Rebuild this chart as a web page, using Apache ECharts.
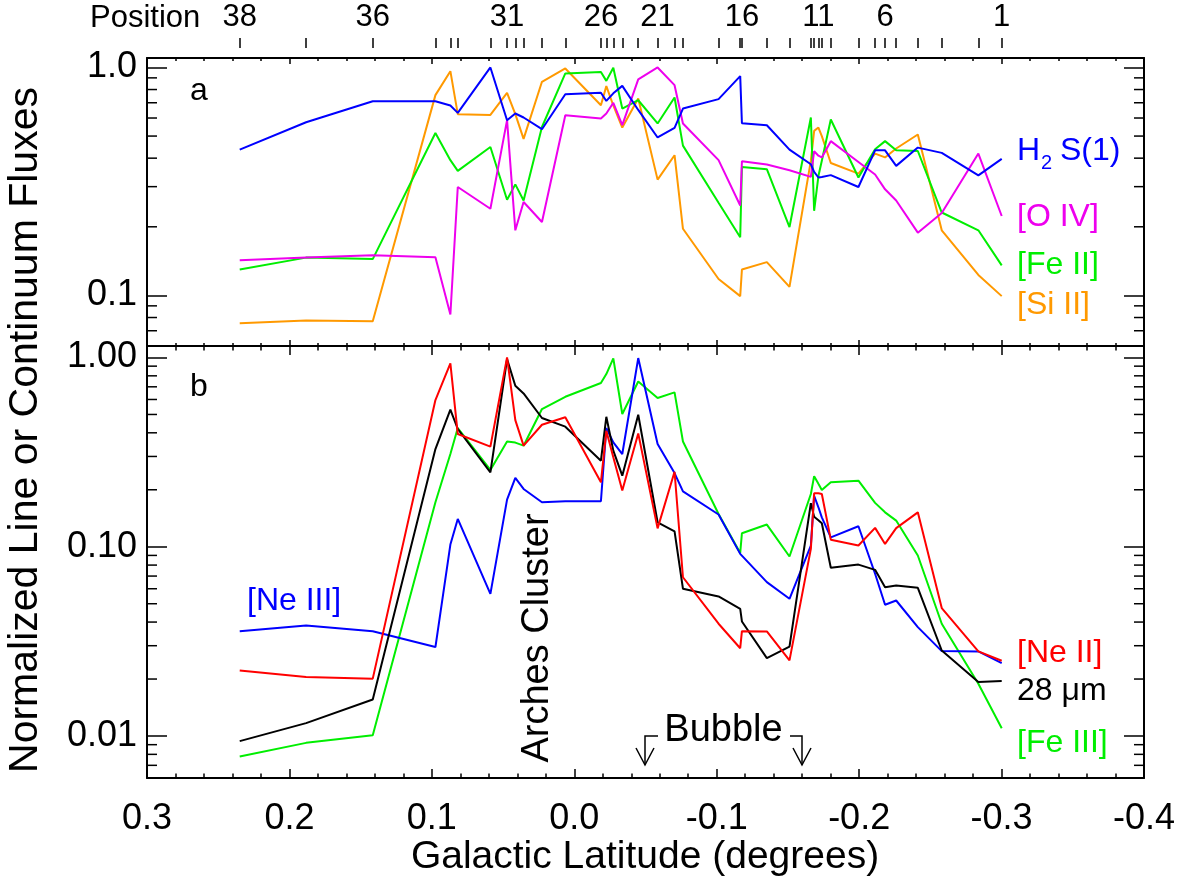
<!DOCTYPE html>
<html>
<head>
<meta charset="utf-8">
<script src="https://cdn.jsdelivr.net/npm/echarts@6/dist/echarts.min.js"></script>
<style>
html,body{margin:0;padding:0;background:#fff;}
#chart{width:1190px;height:881px;}
</style>
</head>
<body>
<div id="chart"></div>
<script>
// Galactic latitude of observed positions 38 ... 1
const lat = [0.2349, 0.1883, 0.1415, 0.0975, 0.0870, 0.0818, 0.0589, 0.0472, 0.0414, 0.0356,
  0.0227, 0.0063, -0.0187, -0.0225, -0.0274, -0.0337, -0.0449, -0.0585, -0.0704, -0.0763,
  -0.1013, -0.1165, -0.1177, -0.1352, -0.1511, -0.1661, -0.1684, -0.1714, -0.1738, -0.1801,
  -0.1995, -0.2112, -0.2182, -0.2260, -0.2412, -0.2580, -0.2837, -0.3001];
const positionNumbers = [38,37,36,35,34,33,32,31,30,29,28,27,26,25,24,23,22,21,20,19,18,17,16,15,14,13,12,11,10,9,8,7,6,5,4,3,2,1];
const positionLabels = [38, 36, 31, 26, 21, 16, 11, 6, 1];

// Panel a
const h2s1 = [0.436, 0.575, 0.711, 0.711, 0.681, 0.632, 1.0, 0.587, 0.628, 0.603, 0.536, 0.763, 0.774, 0.713, 0.77, 0.830, 0.651, 0.493, 0.543, 0.660, 0.726, 0.916, 0.569, 0.558, 0.436, 0.376, 0.348, 0.329, 0.331, 0.337, 0.299, 0.433, 0.433, 0.370, 0.445, 0.422, 0.336, 0.397];
const oIV = [0.1425, 0.1465, 0.150, 0.147, 0.0825, 0.299, 0.240, 0.587, 0.193, 0.257, 0.210, 0.617, 0.597, 0.628, 0.70, 0.558, 0.886, 1.0, 0.836, 0.568, 0.392, 0.248, 0.388, 0.375, 0.354, 0.331, 0.429, 0.41, 0.403, 0.475, 0.385, 0.339, 0.292, 0.261, 0.1885, 0.230, 0.419, 0.223];
const feII = [0.130, 0.1465, 0.1443, 0.516, 0.392, 0.352, 0.448, 0.263, 0.307, 0.261, 0.548, 0.941, 0.954, 0.873, 0.996, 0.660, 0.718, 0.568, 0.738, 0.454, 0.255, 0.180, 0.366, 0.358, 0.1995, 0.603, 0.235, 0.334, 0.390, 0.591, 0.329, 0.438, 0.475, 0.433, 0.43, 0.231, 0.193, 0.1355];
const siII = [0.0755, 0.0777, 0.0771, 0.756, 0.963, 0.624, 0.619, 0.774, 0.624, 0.486, 0.865, 0.99, 0.683, 0.828, 0.681, 0.545, 0.731, 0.322, 0.412, 0.196, 0.118, 0.0993, 0.130, 0.140, 0.109, 0.39, 0.527, 0.545, 0.50, 0.381, 0.342, 0.419, 0.403, 0.441, 0.508, 0.193, 0.123, 0.0993];

// Panel b
const neII = [0.0222, 0.0205, 0.0201, 0.596, 0.930, 0.394, 0.338, 1.0, 0.467, 0.342, 0.441, 0.483, 0.219, 0.410, 0.297, 0.198, 0.397, 0.125, 0.249, 0.069, 0.0392, 0.0291, 0.0358, 0.0357, 0.0251, 0.0975, 0.1915, 0.1915, 0.19, 0.109, 0.1015, 0.1258, 0.1035, 0.1254, 0.152, 0.0474, 0.028, 0.025];
const cont28 = [0.0094, 0.0117, 0.0156, 0.328, 0.530, 0.419, 0.247, 0.98, 0.709, 0.646, 0.479, 0.431, 0.285, 0.486, 0.322, 0.2375, 0.498, 0.1347, 0.1207, 0.060, 0.0546, 0.047, 0.0403, 0.0258, 0.0297, 0.17, 0.144, 0.138, 0.133, 0.0774, 0.0805, 0.0755, 0.0611, 0.0624, 0.0607, 0.0283, 0.0193, 0.0195];
const feIII = [0.0078, 0.0092, 0.0101, 0.172, 0.309, 0.424, 0.2545, 0.360, 0.355, 0.342, 0.534, 0.620, 0.733, 0.817, 0.99, 0.503, 0.747, 0.611, 0.654, 0.360, 0.149, 0.0928, 0.1178, 0.131, 0.0888, 0.190, 0.236, 0.215, 0.1996, 0.219, 0.2235, 0.1705, 0.152, 0.1375, 0.0899, 0.0392, 0.0189, 0.0110];
const neIII = [0.0358, 0.0384, 0.0358, 0.0295, 0.1027, 0.1403, 0.0564, 0.1775, 0.231, 0.202, 0.1718, 0.174, 0.174, 0.424, 0.356, 0.309, 0.993, 0.349, 0.245, 0.196, 0.148, 0.0917, 0.090, 0.065, 0.0531, 0.1015, 0.186, 0.1616, 0.143, 0.112, 0.1283, 0.072, 0.0494, 0.052, 0.0376, 0.0281, 0.028, 0.0243];

// minor log tick values
const minorA = [0.07, 0.08, 0.09, 0.2, 0.3, 0.4, 0.5, 0.6, 0.7, 0.8, 0.9];
const minorB = [0.007, 0.008, 0.009, 0.02, 0.03, 0.04, 0.05, 0.06, 0.07, 0.08, 0.09, 0.2, 0.3, 0.4, 0.5, 0.6, 0.7, 0.8, 0.9];

const FONT = '"Liberation Sans", Arial, Helvetica, sans-serif';
const C = {blue:'#0000ff', mag:'#ee00ee', green:'#00ee00', orange:'#ff9900', red:'#ff0000', black:'#000000'};

const pairs = ys => lat.map((x, i) => [x, ys[i]]);
const labelLats = positionLabels.map(p => lat[positionNumbers.indexOf(p)]);

function xAx(grid, pos, opts) {
  return Object.assign({
    type: 'value', gridIndex: grid, position: pos, min: -0.4, max: 0.3, interval: 0.1, inverse: true,
    axisLine: {show: true, onZero: false, lineStyle: {color: '#000', width: 2}},
    axisTick: {show: true, inside: true, length: 6, lineStyle: {color: '#000', width: 1.5}},
    minorTick: {show: true, splitNumber: 5, length: 3, lineStyle: {color: '#000', width: 1.5}},
    axisLabel: {show: false},
    splitLine: {show: false}, minorSplitLine: {show: false}
  }, opts || {});
}
function isPow10(v) { const l = Math.log10(v); return Math.abs(l - Math.round(l)) < 1e-6; }
function yAx(grid, pos, min, max, dec, showLabel) {
  return {
    type: 'log', logBase: 10, gridIndex: grid, position: pos, min: min, max: max,
    axisLine: {show: true, onZero: false, lineStyle: {color: '#000', width: 2}},
    axisTick: {show: true, inside: true, length: 20, lineStyle: {color: '#000', width: 1.5}},
    axisLabel: {show: showLabel, margin: 10, color: '#000', fontSize: 36, fontFamily: FONT,
      showMinLabel: false, showMaxLabel: false,
      formatter: v => isPow10(v) ? Number(v).toFixed(dec) : ''},
    splitLine: {show: false}
  };
}
function minorTicks(xi, yi, vals) {
  return {
    type: 'custom', xAxisIndex: xi, yAxisIndex: yi, silent: true, clip: false, z: 5,
    data: vals.map(v => [0, v]),
    renderItem: function (params, api) {
      const v = api.value(1);
      const pl = api.coord([0.3, v]);
      const pr = api.coord([-0.4, v]);
      const st = {stroke: '#000', lineWidth: 1.5};
      return {type: 'group', children: [
        {type: 'line', shape: {x1: pl[0], y1: pl[1], x2: pl[0] + 10, y2: pl[1]}, style: st},
        {type: 'line', shape: {x1: pr[0] - 10, y1: pr[1], x2: pr[0], y2: pr[1]}, style: st}
      ]};
    }
  };
}
function line(name, xi, yi, ys, color) {
  return {name: name, type: 'line', xAxisIndex: xi, yAxisIndex: yi, data: pairs(ys),
    showSymbol: false, symbol: 'none', lineStyle: {color: color, width: 2}, itemStyle: {color: color},
    z: 3, silent: true};
}
function txt(text, x, y, size, color, align, rot) {
  return {type: 'text', x: x, y: y, rotation: rot || 0, z: 50, silent: true,
    style: {text: text, fill: color || '#000', font: size + 'px ' + FONT, fontSize: size, fontFamily: FONT,
      align: align || 'left', textAlign: align || 'left', verticalAlign: 'middle', textVerticalAlign: 'middle'}};
}
function pl(points) {
  return {type: 'polyline', z: 50, silent: true, shape: {points: points}, style: {stroke: '#000', lineWidth: 1.5, fill: 'none'}};
}

const chart = echarts.init(document.getElementById('chart'), null, {renderer: 'canvas'});
chart.setOption({
  animation: false,
  backgroundColor: '#fff',
  grid: [
    {left: 147, top: 58, width: 997, height: 288, outerBoundsMode: 'none', containLabel: false},
    {left: 147, top: 346, width: 997, height: 432, outerBoundsMode: 'none', containLabel: false}
  ],
  xAxis: [
    xAx(0, 'bottom'),
    xAx(0, 'top'),
    xAx(0, 'top', {offset: 10, axisLine: {show: false},
      axisTick: {show: true, inside: false, length: 10, customValues: lat, lineStyle: {color: '#000', width: 1.5}},
      minorTick: {show: false},
      axisLabel: {show: true, customValues: labelLats, margin: 15, color: '#000', fontSize: 31, fontFamily: FONT,
        formatter: v => { let best = 0; lat.forEach((l, i) => { if (Math.abs(l - v) < Math.abs(lat[best] - v)) best = i; }); return String(positionNumbers[best]); }}}),
    xAx(1, 'bottom', {axisTick: {show: true, inside: true, length: 9, lineStyle: {color: '#000', width: 1.5}},
      minorTick: {show: true, splitNumber: 5, length: 4.5, lineStyle: {color: '#000', width: 1.5}},
      axisLabel: {show: true, margin: 23, color: '#000', fontSize: 36, fontFamily: FONT,
        formatter: v => (Math.abs(v) < 1e-9 ? '0.0' : Number(v).toFixed(1))}}),
    xAx(1, 'top', {axisTick: {show: true, inside: true, length: 9, lineStyle: {color: '#000', width: 1.5}},
      minorTick: {show: true, splitNumber: 5, length: 4.5, lineStyle: {color: '#000', width: 1.5}}})
  ],
  yAxis: [
    yAx(0, 'left', 0.06, 1.1, 1, true),
    yAx(0, 'right', 0.06, 1.1, 1, false),
    yAx(1, 'left', 0.006, 1.15, 2, true),
    yAx(1, 'right', 0.006, 1.15, 2, false)
  ],
  series: [
    minorTicks(0, 0, minorA),
    minorTicks(3, 2, minorB),
    line('[Si II]', 0, 0, siII, C.orange),
    line('[Fe II]', 0, 0, feII, C.green),
    line('[O IV]', 0, 0, oIV, C.mag),
    line('H2 S(1)', 0, 0, h2s1, C.blue),
    line('[Fe III]', 3, 2, feIII, C.green),
    line('[Ne III]', 3, 2, neIII, C.blue),
    line('28 um', 3, 2, cont28, C.black),
    line('[Ne II]', 3, 2, neII, C.red)
  ],
  graphic: [
    txt('Position', 90, 18, 31),
    txt('a', 190, 91, 32),
    txt('b', 190, 387, 32),
    txt('H', 1017, 151.5, 32, C.blue),
    txt('2', 1041, 163, 20, C.blue),
    txt('S(1)', 1060, 151.5, 32, C.blue),
    txt('[O IV]', 1017, 217.5, 32, C.mag),
    txt('[Fe II]', 1017, 265.5, 32, C.green),
    txt('[Si II]', 1017, 305.5, 32, C.orange),
    txt('[Ne III]', 247, 601.5, 32, C.blue),
    txt('[Ne II]', 1017, 653.5, 32, C.red),
    txt('28 \u03bcm', 1017, 691.5, 32, C.black),
    txt('[Fe III]', 1017, 743.5, 32, C.green),
    txt('Bubble', 723.5, 730.3, 38, '#000', 'center'),
    txt('Arches Cluster', 538, 638, 38, '#000', 'center', Math.PI / 2),
    txt('Normalized Line or Continuum Fluxes', 26, 430, 41, '#000', 'center', Math.PI / 2),
    txt('Galactic Latitude (degrees)', 645, 857, 39, '#000', 'center'),
    pl([[658, 736], [645, 736], [645, 765]]),
    pl([[636, 748], [645, 765], [654, 748]]),
    pl([[790, 736], [802, 736], [802, 765]]),
    pl([[793, 748], [802, 765], [811, 748]])
  ]
});
</script>
</body>
</html>
